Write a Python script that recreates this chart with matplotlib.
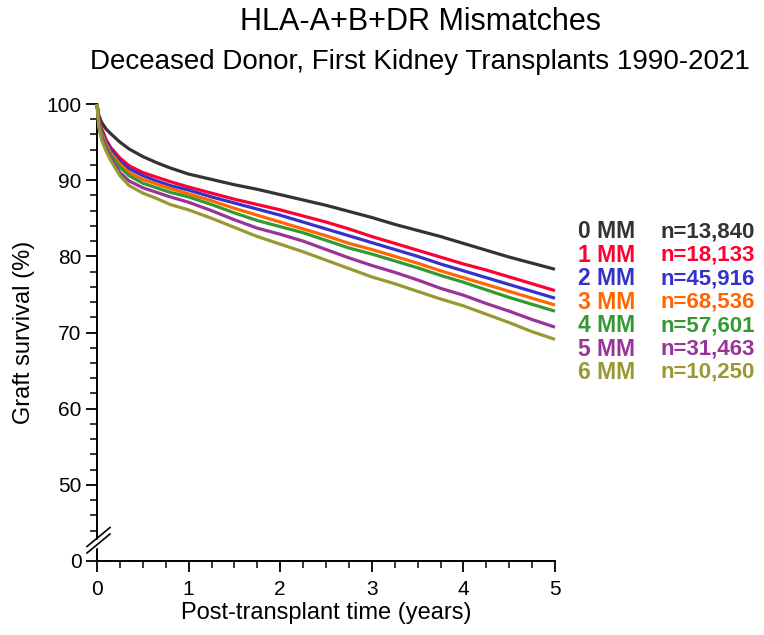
import matplotlib
matplotlib.use("Agg")
import matplotlib.pyplot as plt
from matplotlib.lines import Line2D
import numpy as np

plt.rcParams['font.family'] = ['Liberation Sans', 'DejaVu Sans']

# ---------------- data ----------------
years = [0, 0.02, 0.05, 0.1, 0.15, 0.25, 0.35, 0.5, 0.65, 0.8, 1.0, 1.25, 1.5, 1.75,
         2.0, 2.25, 2.5, 2.75, 3.0, 3.25, 3.5, 3.75, 4.0, 4.25, 4.5, 4.75, 5.0]

mm0 = [100, 98.5, 97.6, 96.7, 96.1, 95.0, 94.1, 93.1, 92.3, 91.6, 90.8, 90.1, 89.4, 88.8,
       88.1, 87.4, 86.7, 85.9, 85.1, 84.2, 83.4, 82.6, 81.7, 80.8, 79.9, 79.1, 78.3]
mm1 = [100, 98.0, 96.8, 95.3, 94.3, 92.9, 91.9, 91.0, 90.4, 89.8, 89.1, 88.3, 87.5, 86.8,
       86.1, 85.3, 84.5, 83.6, 82.6, 81.7, 80.8, 79.9, 79.0, 78.2, 77.3, 76.4, 75.5]
mm2 = [100, 97.8, 96.5, 95.0, 94.0, 92.5, 91.5, 90.6, 89.9, 89.3, 88.7, 87.8, 87.0, 86.2,
       85.4, 84.5, 83.6, 82.7, 81.8, 80.9, 80.0, 79.0, 78.1, 77.2, 76.3, 75.4, 74.5]
mm3 = [100, 97.6, 96.2, 94.7, 93.6, 92.1, 91.0, 90.1, 89.5, 88.9, 88.2, 87.3, 86.3, 85.4,
       84.5, 83.6, 82.7, 81.7, 80.9, 80.0, 79.1, 78.1, 77.2, 76.3, 75.4, 74.5, 73.6]
mm4 = [100, 97.4, 96.0, 94.4, 93.3, 91.7, 90.6, 89.6, 89.0, 88.4, 87.8, 86.8, 85.7, 84.7,
       83.9, 83.1, 82.1, 81.1, 80.3, 79.4, 78.5, 77.5, 76.6, 75.6, 74.6, 73.7, 72.8]
mm5 = [100, 97.2, 95.6, 94.1, 92.9, 91.0, 89.9, 89.0, 88.4, 87.8, 87.1, 86.0, 84.8, 83.7,
       82.9, 82.0, 80.9, 79.8, 78.8, 77.9, 76.9, 75.8, 74.9, 73.8, 72.8, 71.7, 70.7]
mm6 = [100, 97.0, 95.3, 93.8, 92.6, 90.6, 89.3, 88.3, 87.6, 86.8, 86.1, 85.0, 83.8, 82.6,
       81.6, 80.6, 79.5, 78.4, 77.3, 76.4, 75.4, 74.4, 73.5, 72.4, 71.3, 70.1, 69.1]

series = [mm0, mm1, mm2, mm3, mm4, mm5, mm6]
group_labels = ["0 MM", "1 MM", "2 MM", "3 MM", "4 MM", "5 MM", "6 MM"]
n_labels = ["n=13,840", "n=18,133", "n=45,916", "n=68,536", "n=57,601", "n=31,463", "n=10,250"]
colors = ["#333333", "#ff0033", "#3333cc", "#ff6600", "#339933", "#993399", "#999933"]

y_major = [40, 50, 60, 70, 80, 90, 100]
y_major_labels = ["0", "50", "60", "70", "80", "90", "100"]
x_major = [0, 1, 2, 3, 4, 5]

# ---------------- figure ----------------
W, H = 764, 635
fig = plt.figure(figsize=(W / 100, H / 100), dpi=100)
ax = fig.add_axes([97 / W, 1 - 561 / H, (555 - 97) / W, (561 - 104) / H])

for s, c in zip(series, colors):
    ax.plot(years, s, color=c, lw=2.3, solid_capstyle='butt', clip_on=False, zorder=3)

ax.set_xlim(0, 5)
ax.set_ylim(40, 100)
ax.set_xticks(x_major)
ax.set_xticks(np.arange(0, 5.001, 0.25), minor=True)
ax.set_yticks(y_major)
ax.set_yticklabels(y_major_labels)
ax.set_yticks([v for v in range(44, 100, 2) if v % 10 != 0], minor=True)

for side in ['top', 'right']:
    ax.spines[side].set_visible(False)
for side in ['left', 'bottom']:
    ax.spines[side].set_linewidth(1.4)
    ax.spines[side].set_color('black')

ax.tick_params(axis='both', which='major', length=8, width=1.3, labelsize=15, color='black')
ax.tick_params(axis='x', which='major', pad=6)
ax.tick_params(axis='y', which='major', pad=3)
ax.tick_params(axis='both', which='minor', length=5, width=1.1, color='black')

ax.set_xlabel("Post-transplant time (years)", fontsize=17, labelpad=2)
ax.set_ylabel("Graft survival (%)", fontsize=17, labelpad=8)

# axis break marks
trans = ax.transAxes
bx0, bx1 = -10 / 458, 13 / 458
for off in (0.0, 6.5):
    yb0 = (561 - 553 + off) / 457
    yb1 = (561 - 534 + off) / 457
    ax.add_line(Line2D([bx0, bx1], [yb0, yb1], transform=trans, color='black',
                       lw=1.2, clip_on=False, zorder=5))
ax.add_line(Line2D([0, 0], [(561 - 545.5) / 457, (561 - 541) / 457], transform=trans,
                   color='white', lw=2.5, clip_on=False, zorder=4))

# right-side labels
for i, (g, n, c) in enumerate(zip(group_labels, n_labels, colors)):
    yfrac = (561 - (232 + i * 23.4)) / 457
    ax.text((578 - 97) / 458, yfrac, g, transform=trans, color=c, fontsize=16.5,
            fontweight='bold', va='center', ha='left')
    ax.text((660 - 97) / 458, yfrac, n, transform=trans, color=c, fontsize=16,
            fontweight='bold', va='center', ha='left')

# titles
fig.text(420 / W, 1 - 22 / H, "HLA-A+B+DR Mismatches", ha='center', va='center', fontsize=22)
fig.text(420 / W, 1 - 62 / H, "Deceased Donor, First Kidney Transplants 1990-2021",
         ha='center', va='center', fontsize=20)

fig.savefig("out.png", dpi=100)
